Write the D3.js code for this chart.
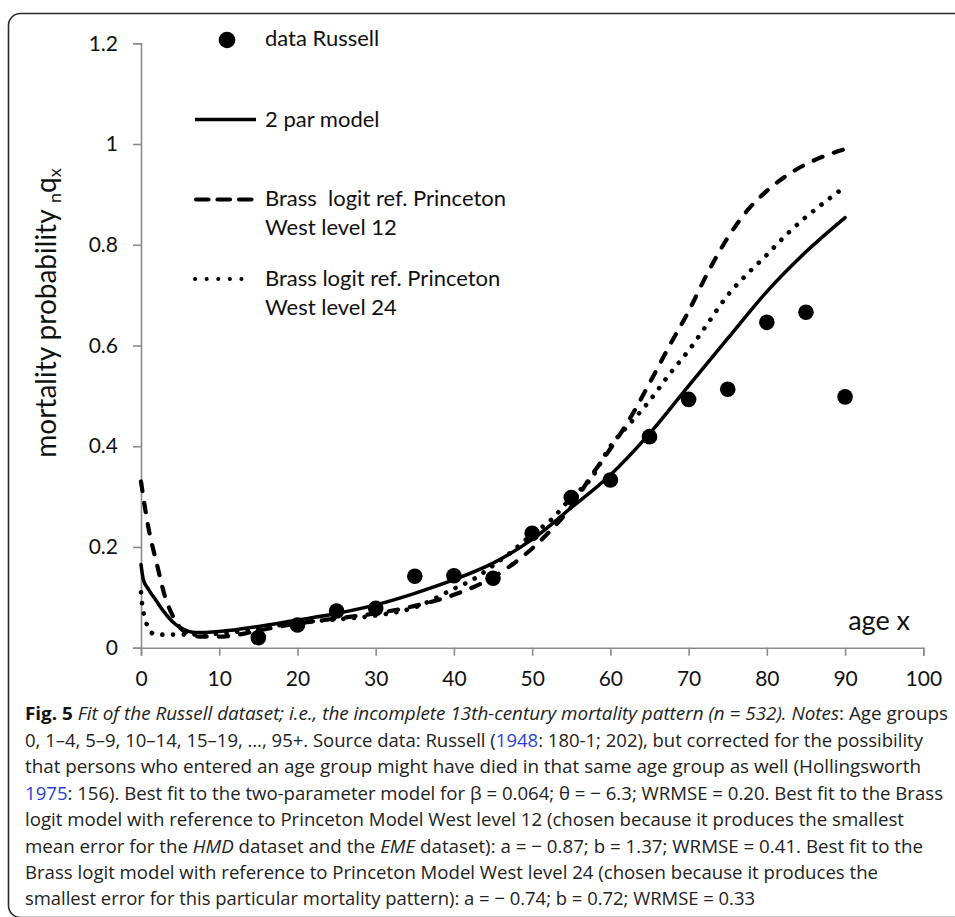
<!DOCTYPE html>
<html><head><meta charset="utf-8">
<script src="https://cdn.jsdelivr.net/npm/d3@7"></script>
<style>
html,body{margin:0;padding:0;background:#fff;}
svg{display:block;}
text{white-space:pre;}
</style></head>
<body>
<svg id="c" width="955" height="917"></svg>
<script>
// ---- data ----
const dataAges = [15,20,25,30,35,40,45,50,55,60,65,70,75,80,85,90];
const dataQ    = [0.020,0.045,0.073,0.078,0.142,0.143,0.138,0.227,0.298,0.333,0.419,0.493,0.513,0.646,0.666,0.498];

const twoParAges = [0,0.3,1,2,3,4,5,6,7,8,10,15,20,25,30,35,40,45,50,55,60,65,70,75,80,85,90];
const twoParQ    = [0.165,0.135,0.115,0.092,0.070,0.052,0.040,0.033,0.030,0.030,0.032,0.042,0.055,0.068,0.085,0.108,0.135,0.168,0.215,0.278,0.343,0.425,0.520,0.614,0.707,0.786,0.854];

const brass12Ages = [0,1,2,3,4,5,6,7.5,10,12.5,15,20,25,30,35,40,45,50,52.5,55,57.5,60,62.5,65,67.5,70,72.5,75,77.5,80,82.5,85,87.5,90];
const brass12Q    = [0.330,0.234,0.168,0.105,0.065,0.040,0.028,0.022,0.022,0.026,0.034,0.048,0.058,0.068,0.083,0.105,0.140,0.197,0.235,0.280,0.340,0.395,0.455,0.525,0.598,0.668,0.746,0.814,0.868,0.907,0.937,0.960,0.977,0.990];

const brass24Ages = [0,0.15,0.4,0.85,1.7,3,5,10,15,20,25,30,35,40,42.5,45,47.5,50,52.5,55,57.5,60,62.5,65,67.5,70,72.5,75,77.5,80,82.5,85,87.5,90];
const brass24Q    = [0.110,0.085,0.065,0.042,0.027,0.026,0.026,0.028,0.038,0.050,0.056,0.064,0.080,0.117,0.136,0.163,0.192,0.225,0.255,0.298,0.335,0.400,0.445,0.490,0.542,0.590,0.645,0.700,0.742,0.780,0.820,0.855,0.886,0.915];

const xTicks = [0,10,20,30,40,50,60,70,80,90,100];
const yTicks = [0,0.2,0.4,0.6,0.8,1,1.2];
const yTickLabels = ["0","0.2","0.4","0.6","0.8","1","1.2"];

const legendLabels = [["data Russell"],["2 par model"],["Brass  logit ref. Princeton","West level 12"],["Brass logit ref. Princeton","West level 24"]];

const captionLines = [
  [["Fig. 5","b"],[" Fit of the Russell dataset; i.e., the incomplete 13th-century mortality pattern (n = 532). Notes","i"],[": Age groups",""]],
  [["0, 1–4, 5–9, 10–14, 15–19, …, 95+. Source data: Russell (",""],["1948","l"],[": 180-1; 202), but corrected for the possibility",""]],
  [["that persons who entered an age group might have died in that same age group as well (Hollingsworth",""]],
  [["1975","l"],[": 156). Best fit to the two-parameter model for β = 0.064; θ = − 6.3; WRMSE = 0.20. Best fit to the Brass",""]],
  [["logit model with reference to Princeton Model West level 12 (chosen because it produces the smallest",""]],
  [["mean error for the ",""],["HMD","i"],[" dataset and the ",""],["EME","i"],[" dataset): a = − 0.87; b = 1.37; WRMSE = 0.41. Best fit to the",""]],
  [["Brass logit model with reference to Princeton Model West level 24 (chosen because it produces the",""]],
  [["smallest error for this particular mortality pattern): a = − 0.74; b = 0.72; WRMSE = 0.33",""]]
];
const captionWidths = [923,898,896,918,879,898,853,730];

// ---- drawing ----
const svg = d3.select("#c");
const FONT = "Lato, 'Open Sans', sans-serif";

svg.append("rect").attr("x",8.5).attr("y",13.5).attr("width",975).attr("height",904)
  .attr("rx",12).attr("fill","none").attr("stroke","#2a2a2a").attr("stroke-width",1.6);

const x = d3.scaleLinear().domain([0,100]).range([141,923.3]);
const y = d3.scaleLinear().domain([0,1.2]).range([647.7,43.3]);

// axes
const gx = svg.append("g").attr("transform",`translate(0,${y(0)})`)
  .call(d3.axisBottom(x).tickValues(xTicks).tickSize(8).tickPadding(10).tickFormat(d3.format("d")));
const gy = svg.append("g").attr("transform",`translate(${x(0)},0)`)
  .call(d3.axisLeft(y).tickValues(yTicks).tickSize(8).tickPadding(15).tickFormat((d,i)=>yTickLabels[i]));
[gx,gy].forEach(g=>{
  g.select(".domain").attr("stroke","#8c8c8c").attr("stroke-width",1.6);
  g.selectAll(".tick line").attr("stroke","#8c8c8c").attr("stroke-width",1.6);
  g.selectAll(".tick text").attr("font-family",FONT).attr("font-size",21).attr("fill","#111");
});
gx.selectAll(".tick text").attr("dy","0.95em");

// lines
const line = d3.line().x(d=>x(d[0])).y(d=>y(d[1])).curve(d3.curveMonotoneX);
const mk = (a,b)=>a.map((v,i)=>[v,b[i]]);
svg.append("path").datum(mk(twoParAges,twoParQ)).attr("d",line)
  .attr("fill","none").attr("stroke","#000").attr("stroke-width",3.5).attr("stroke-linecap","round");
svg.append("path").datum(mk(brass12Ages,brass12Q)).attr("d",line)
  .attr("fill","none").attr("stroke","#000").attr("stroke-width",4.2).attr("stroke-linecap","round")
  .attr("stroke-dasharray","9.5,12");
svg.append("path").datum(mk(brass24Ages,brass24Q)).attr("d",line)
  .attr("fill","none").attr("stroke","#000").attr("stroke-width",4.6).attr("stroke-linecap","round")
  .attr("stroke-dasharray","0.1,10.6");

// data points
svg.append("g").selectAll("circle").data(mk(dataAges,dataQ)).join("circle")
  .attr("cx",d=>x(d[0])).attr("cy",d=>y(d[1])).attr("r",7.8).attr("fill","#000");

// legend
const lg = svg.append("g");
lg.append("circle").attr("cx",227).attr("cy",40).attr("r",8.3).attr("fill","#000");
lg.append("line").attr("x1",195).attr("x2",256).attr("y1",119.5).attr("y2",119.5)
  .attr("stroke","#000").attr("stroke-width",3.5);
lg.append("line").attr("x1",196).attr("x2",252).attr("y1",199.5).attr("y2",199.5)
  .attr("stroke","#000").attr("stroke-width",4.2).attr("stroke-linecap","round").attr("stroke-dasharray","12.5,9");
lg.append("line").attr("x1",195).attr("x2",253).attr("y1",279).attr("y2",279)
  .attr("stroke","#000").attr("stroke-width",4).attr("stroke-linecap","round").attr("stroke-dasharray","0.1,11.5");
const legY = [[46],[126.5],[206,235],[286,315]];
legendLabels.forEach((lines,i)=>{
  lines.forEach((t,j)=>{
    lg.append("text").attr("x",265).attr("y",legY[i][j]).text(t)
      .attr("font-family",FONT).attr("font-size",22).attr("fill","#111");
  });
});

// axis titles
const yt = svg.append("text").attr("transform","translate(56,313) rotate(-90)")
  .attr("text-anchor","middle").attr("font-family",FONT).attr("font-size",28).attr("fill","#111");
yt.append("tspan").text("mortality probability ");
yt.append("tspan").text("n").attr("font-size",18).attr("dy",5);
yt.append("tspan").text("q").attr("dy",-5);
yt.append("tspan").text("x").attr("font-size",18).attr("dy",5);

svg.append("text").attr("x",910).attr("y",630).attr("text-anchor","end")
  .attr("font-family",FONT).attr("font-size",27).attr("fill","#111").text("age x");

// caption
const capBase = [720,746.5,773,799.5,826,852.5,879,905];
captionLines.forEach((segs,i)=>{
  const t = svg.append("text").attr("x",25).attr("y",capBase[i])
    .attr("font-family","'Open Sans', sans-serif").attr("font-size",18.5).attr("fill","#222")
    .attr("textLength",captionWidths[i]).attr("lengthAdjust","spacingAndGlyphs");
  segs.forEach(([s,st])=>{
    const ts = t.append("tspan").text(s);
    if(st==="b") ts.attr("font-weight","bold").attr("fill","#111");
    if(st==="i") ts.attr("font-style","italic");
    if(st==="l") ts.attr("fill","#2a3fd6");
  });
});
</script>
</body></html>
